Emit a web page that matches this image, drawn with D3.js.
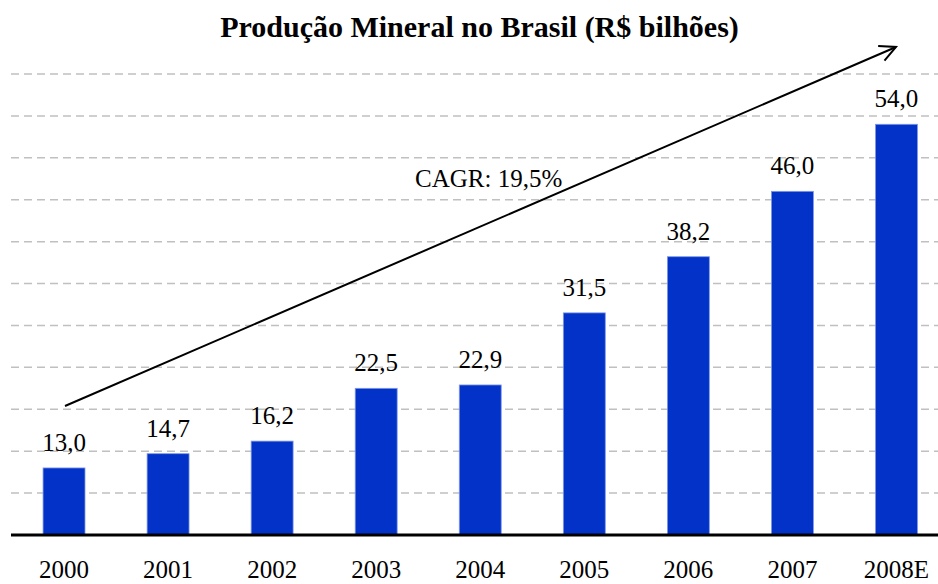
<!DOCTYPE html>
<html lang="pt">
<head>
<meta charset="utf-8">
<title>Produção Mineral no Brasil</title>
<script src="https://d3js.org/d3.v7.min.js"></script>
<style>
  body { margin: 0; background: #fff; }
</style>
</head>
<body>
<script>
// data
var years = ["2000", "2001", "2002", "2003", "2004", "2005", "2006", "2007", "2008E"];
var values = [13.0, 14.7, 16.2, 22.5, 22.9, 31.5, 38.2, 46.0, 54.0];
var gridTicks = [10, 15, 20, 25, 30, 35, 40, 45, 50, 55, 60];
var cagrLabel = "CAGR: 19,5%";
var title = "Produção Mineral no Brasil (R$ bilhões)";

var width = 938, height = 584;
var serif = "'Liberation Serif', 'Times New Roman', Times, serif";

var svg = d3.select("body").append("svg")
    .attr("width", width)
    .attr("height", height)
    .attr("font-family", serif);

var x = d3.scaleBand()
    .domain(years)
    .range([12, 948.5])
    .paddingInner(0.597)
    .paddingOuter(0.2985);

var y = d3.scaleLinear()
    .domain([5, 60])
    .range([535, 74]);

var fmt = function(v) { return v.toFixed(1).replace(".", ","); };

// dashed gridlines
svg.append("g")
    .selectAll("line")
    .data(gridTicks)
    .enter().append("line")
    .attr("x1", 11)
    .attr("x2", width)
    .attr("y1", function(d) { return y(d); })
    .attr("y2", function(d) { return y(d); })
    .attr("stroke", "#c0c0c0")
    .attr("stroke-width", 1.5)
    .attr("stroke-dasharray", "8,5");

// bars
svg.append("g")
    .selectAll("rect")
    .data(values)
    .enter().append("rect")
    .attr("x", function(d, i) { return x(years[i]); })
    .attr("width", x.bandwidth())
    .attr("y", function(d) { return y(d); })
    .attr("height", function(d) { return y(5) - y(d); })
    .attr("fill", "#0232c8")
    .attr("stroke", "#7f98e6")
    .attr("stroke-width", 0.8);

// value labels
svg.append("g")
    .selectAll("text")
    .data(values)
    .enter().append("text")
    .attr("x", function(d, i) { return x(years[i]) + x.bandwidth() / 2; })
    .attr("y", function(d) { return y(d) - 17; })
    .attr("text-anchor", "middle")
    .attr("font-family", serif)
    .attr("font-size", 25)
    .text(fmt);

// baseline axis
svg.append("line")
    .attr("x1", 11)
    .attr("x2", width)
    .attr("y1", y(5))
    .attr("y2", y(5))
    .attr("stroke", "#000")
    .attr("stroke-width", 3);

// year labels
svg.append("g")
    .selectAll("text")
    .data(years)
    .enter().append("text")
    .attr("x", function(d) { return x(d) + x.bandwidth() / 2; })
    .attr("y", 578)
    .attr("text-anchor", "middle")
    .attr("font-family", serif)
    .attr("font-size", 25)
    .text(function(d) { return d; });

// growth arrow
var defs = svg.append("defs");
defs.append("marker")
    .attr("id", "arrow")
    .attr("viewBox", "0 0 20 20")
    .attr("refX", 18)
    .attr("refY", 10)
    .attr("markerWidth", 20)
    .attr("markerHeight", 20)
    .attr("markerUnits", "userSpaceOnUse")
    .attr("orient", "auto")
    .append("path")
    .attr("d", "M2,2 L18,10 L2,18")
    .attr("fill", "none")
    .attr("stroke", "#000")
    .attr("stroke-width", 2);

svg.append("line")
    .attr("x1", 65)
    .attr("y1", 406)
    .attr("x2", 896)
    .attr("y2", 47)
    .attr("stroke", "#000")
    .attr("stroke-width", 2)
    .attr("marker-end", "url(#arrow)");

svg.append("text")
    .attr("x", 415)
    .attr("y", 187)
    .attr("font-family", serif)
    .attr("font-size", 25)
    .text(cagrLabel);

// title
svg.append("text")
    .attr("x", 479.5)
    .attr("y", 37)
    .attr("text-anchor", "middle")
    .attr("font-family", serif)
    .attr("font-size", 30)
    .attr("font-weight", "bold")
    .text(title);
</script>
</body>
</html>
